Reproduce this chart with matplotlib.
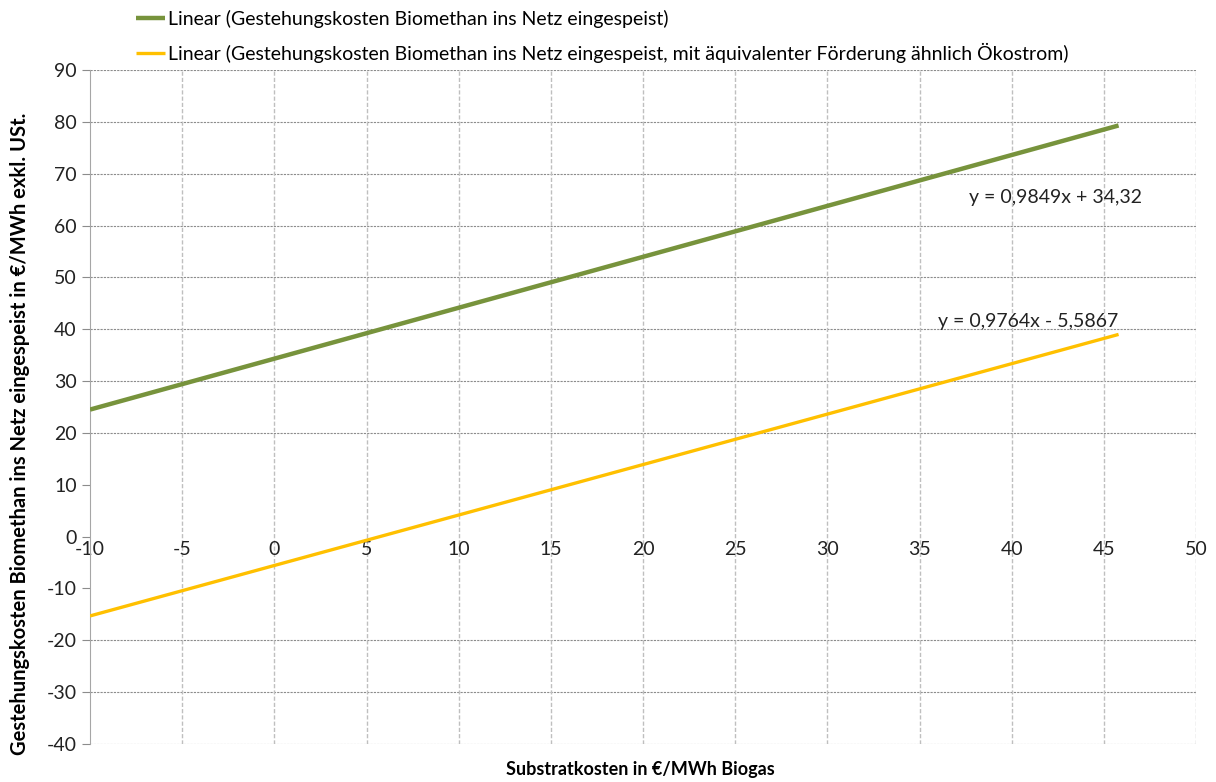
import matplotlib
matplotlib.use('Agg')
import matplotlib.pyplot as plt

plt.rcParams['font.family'] = ['Lato', 'DejaVu Sans']
plt.rcParams['axes.unicode_minus'] = False

# trend line end points
x_green = [-10, 45.8]
y_green = [24.5, 79.3]
x_yellow = [-10, 45.8]
y_yellow = [-15.3, 39.0]

label_green = 'Linear (Gestehungskosten Biomethan ins Netz eingespeist)'
label_yellow = ('Linear (Gestehungskosten Biomethan ins Netz eingespeist, '
                'mit äquivalenter Förderung ähnlich Ökostrom)')
eq_green = 'y = 0,9849x + 34,32'
eq_yellow = 'y = 0,9764x - 5,5867'

x_ticks = list(range(-10, 51, 5))
y_ticks = list(range(-40, 91, 10))
h_grid = [90, 80, 70, 60, 50, 40, 30, 20, -20, -30, -40]

fig = plt.figure(figsize=(12.16, 7.82), dpi=100)
ax = fig.add_axes([90 / 1216, 1 - 744 / 782, (1196 - 90) / 1216, (744 - 70) / 782])

for v in h_grid:
    ax.axhline(v, color='#8c8c8c', linestyle=(0, (2, 1)), linewidth=0.8, zorder=1)
for v in x_ticks[1:]:
    ax.axvline(v, color='#bfbfbf', linestyle=(0, (3, 1.5)), linewidth=1.0, zorder=1)

l1, = ax.plot(x_green, y_green, color='#77933c', linewidth=3.2, label=label_green,
              solid_capstyle='butt', zorder=3)
l2, = ax.plot(x_yellow, y_yellow, color='#ffc000', linewidth=2.4, label=label_yellow,
              solid_capstyle='butt', zorder=3)

ax.text(37.7, 65.4, eq_green, fontsize=14, ha='left', va='center', color='#222222')
ax.text(36.0, 41.4, eq_yellow, fontsize=14, ha='left', va='center', color='#222222')

ax.set_xlim(-10, 50)
ax.set_ylim(-40, 90)
ax.set_xticks(x_ticks)
ax.set_yticks(y_ticks)

ax.spines['top'].set_visible(False)
ax.spines['right'].set_visible(False)
ax.spines['left'].set_color('#a6a6a6')
ax.spines['bottom'].set_position(('data', 0))
ax.spines['bottom'].set_visible(False)

ax.tick_params(axis='y', length=6, color='#8c8c8c', labelsize=14, pad=3.5, labelcolor='#222222')
ax.tick_params(axis='x', length=0, labelsize=14, pad=3.5, labelcolor='#222222')

fig.text(640 / 1216, 1 - 770 / 782, 'Substratkosten in €/MWh Biogas', fontsize=13,
         fontweight='bold', ha='center', va='center')
fig.text(20 / 1216, 1 - 434 / 782,
         'Gestehungskosten Biomethan ins Netz eingespeist in €/MWh exkl. USt.',
         fontsize=14.5, fontweight='bold', rotation=90, ha='center', va='center')

fig.legend(handles=[l1, l2], loc='upper left', bbox_to_anchor=(128 / 1216, 1 - 2 / 782),
           frameon=False, fontsize=14, handlelength=1.5, handletextpad=0.15,
           labelspacing=0.75, borderaxespad=0)

fig.savefig('out.png', dpi=100)
